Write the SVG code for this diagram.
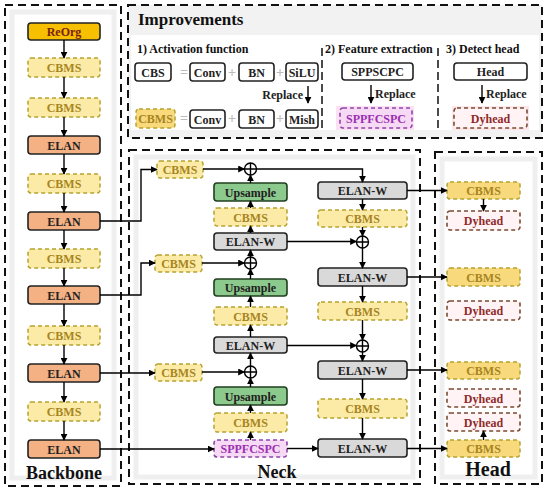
<svg xmlns="http://www.w3.org/2000/svg" width="550" height="492" viewBox="0 0 550 492">
<defs>
<marker id="ah" viewBox="0 0 10 10" refX="9" refY="5" markerWidth="5" markerHeight="5" orient="auto"><path d="M0,0 L10,5 L0,10 z" fill="#000"/></marker>
<style>
text{font-family:"Liberation Serif","Times New Roman",serif;font-weight:bold;}
.panel{fill:#fff;stroke:#111;stroke-width:2;stroke-dasharray:8,5;}
.inner{fill:#fff;stroke:#EFEFEF;stroke-width:5;}
.cbms{fill:#FCEBA6;stroke:#B5A230;stroke-width:1.5;stroke-dasharray:4,3;}
.cbmsh{fill:#F8D97C;stroke:#B5A230;stroke-width:1.5;stroke-dasharray:4,3;}
.tc{fill:#A7851F;font-size:12px;text-anchor:middle;}
.elan{fill:#F4B183;stroke:#222;stroke-width:1.6;}
.reorg{fill:#F6C000;stroke:#222;stroke-width:1.6;}
.elanw{fill:#D9D9D9;stroke:#222;stroke-width:1.6;}
.up{fill:#8CC98C;stroke:#1F3F1F;stroke-width:1.6;}
.spp{fill:#F6D9F5;stroke:#8E44A8;stroke-width:1.6;stroke-dasharray:4,3;}
.tspp{fill:#9B2FB0;font-size:12px;text-anchor:middle;}
.dy{fill:#FFF3F6;stroke:#7A4A30;stroke-width:1.6;stroke-dasharray:4,3;}
.tdy{fill:#8E2A2A;font-size:12px;text-anchor:middle;}
.box{fill:#fff;stroke:#222;stroke-width:1.6;}
.tk{fill:#222;font-size:12px;text-anchor:middle;}
.a{fill:none;stroke:#000;stroke-width:1.4;marker-end:url(#ah);}
.plus circle{fill:#fff;stroke:#000;stroke-width:1.4;}
.plus path{stroke:#000;stroke-width:1.4;}
.sep{stroke:#111;stroke-width:1.5;stroke-dasharray:8,4;}
.op{fill:#BBBBBB;font-size:14px;text-anchor:middle;}
</style>
</defs>

<!-- panels -->
<g id="panel-backbone">
<rect class="panel" x="5" y="5" width="116" height="481"/>
<rect class="inner" x="12" y="12" width="102" height="466"/>
<text x="64" y="479" font-size="18" text-anchor="middle" fill="#111">Backbone</text>
</g>
<g id="panel-improvements">
<rect class="panel" x="128" y="5" width="414" height="133" style="fill:#F2F2F2"/>
<rect x="131" y="35" width="408" height="95" fill="#fff"/>
<text x="138" y="25" font-size="17" fill="#111">Improvements</text>
<text x="137" y="53" font-size="12" fill="#111">1) Activation function</text>
<text x="325" y="53" font-size="12" fill="#111">2)  Feature extraction</text>
<text x="446" y="53" font-size="12" fill="#111">3) Detect head</text>
<line class="sep" x1="322" y1="48" x2="322" y2="129"/>
<line class="sep" x1="438" y1="48" x2="438" y2="129"/>
</g>
<g id="panel-neck">
<rect class="panel" x="129" y="150" width="291" height="334"/>
<rect class="inner" x="136" y="157" width="277" height="320"/>
<text x="277" y="478" font-size="18" text-anchor="middle" fill="#111">Neck</text>
</g>
<g id="panel-head">
<rect class="panel" x="435" y="152" width="107" height="332"/>
<rect class="inner" x="442" y="159" width="93" height="318"/>
<text x="488" y="476" font-size="20" text-anchor="middle" fill="#111">Head</text>
</g>

<!-- improvements content -->
<g id="imp-cbs"><rect class="box" x="135" y="63" width="36" height="18" rx="3"/><text class="tk" x="153" y="76.5">CBS</text></g>
<text class="op" x="184" y="77">=</text>
<g id="imp-conv1"><rect class="box" x="190" y="63" width="35" height="18" rx="3"/><text class="tk" x="207.5" y="76.5">Conv</text></g>
<text class="op" x="232" y="77">+</text>
<g id="imp-bn1"><rect class="box" x="239" y="63" width="35" height="18" rx="3"/><text class="tk" x="256.5" y="76.5">BN</text></g>
<text class="op" x="280" y="77">+</text>
<g id="imp-silu"><rect class="box" x="286" y="63" width="32" height="18" rx="3"/><text class="tk" x="302" y="76.5">SiLU</text></g>
<text x="303" y="99" font-size="12" fill="#222" text-anchor="end">Replace</text>
<g id="imp-cbms"><rect class="cbmsh" x="136" y="109" width="39" height="19" rx="3"/><text class="tc" x="155.5" y="123">CBMS</text></g>
<text class="op" x="184" y="123">=</text>
<g id="imp-conv2"><rect class="box" x="190" y="110" width="35" height="18" rx="3"/><text class="tk" x="207.5" y="123.5">Conv</text></g>
<text class="op" x="232" y="123">+</text>
<g id="imp-bn2"><rect class="box" x="239" y="110" width="35" height="18" rx="3"/><text class="tk" x="256.5" y="123.5">BN</text></g>
<text class="op" x="280" y="123">+</text>
<g id="imp-mish"><rect class="box" x="286" y="110" width="32" height="18" rx="3"/><text class="tk" x="302" y="123.5">Mish</text></g>

<g id="imp-sppscpc"><rect class="box" x="342" y="63" width="71" height="17" rx="3"/><text class="tk" x="377.5" y="76">SPPSCPC</text></g>
<text x="375" y="98" font-size="12" fill="#222">Replace</text>
<g id="imp-sppfcspc"><rect x="336" y="106" width="78" height="24" fill="#FBE1F3"/><rect class="spp" x="340" y="108" width="72" height="20" rx="3"/><text class="tspp" x="376" y="122.5">SPPFCSPC</text></g>

<g id="imp-head"><rect class="box" x="454" y="63" width="73" height="17" rx="3"/><text class="tk" x="490.5" y="76">Head</text></g>
<text x="486" y="98" font-size="12" fill="#222">Replace</text>
<g id="imp-dyhead"><rect x="452" y="106" width="77" height="24" fill="#FCE6EA"/><rect class="dy" x="454" y="108" width="73" height="20" rx="3"/><text class="tdy" x="490.5" y="122.5">Dyhead</text></g>

<!-- backbone nodes -->
<g id="bb-reorg"><rect class="reorg" x="28" y="23" width="72" height="17" rx="3"/><text x="64" y="36" font-size="12" text-anchor="middle" fill="#7A1E10">ReOrg</text></g>
<g id="bb-cbms1"><rect class="cbms" x="28" y="58" width="72" height="19" rx="3"/><text class="tc" x="64" y="72">CBMS</text></g>
<g id="bb-cbms2"><rect class="cbms" x="28" y="98" width="72" height="19" rx="3"/><text class="tc" x="64" y="112">CBMS</text></g>
<g id="bb-elan1"><rect class="elan" x="28" y="136" width="72" height="18" rx="3"/><text class="tk" x="64" y="149.5">ELAN</text></g>
<g id="bb-cbms3"><rect class="cbms" x="28" y="174" width="72" height="19" rx="3"/><text class="tc" x="64" y="188">CBMS</text></g>
<g id="bb-elan2"><rect class="elan" x="28" y="212" width="72" height="18" rx="3"/><text class="tk" x="64" y="225.5">ELAN</text></g>
<g id="bb-cbms4"><rect class="cbms" x="28" y="249" width="72" height="19" rx="3"/><text class="tc" x="64" y="263">CBMS</text></g>
<g id="bb-elan3"><rect class="elan" x="28" y="286" width="72" height="18" rx="3"/><text class="tk" x="64" y="299.5">ELAN</text></g>
<g id="bb-cbms5"><rect class="cbms" x="28" y="326" width="72" height="19" rx="3"/><text class="tc" x="64" y="340">CBMS</text></g>
<g id="bb-elan4"><rect class="elan" x="28" y="364" width="72" height="18" rx="3"/><text class="tk" x="64" y="377.5">ELAN</text></g>
<g id="bb-cbms6"><rect class="cbms" x="28" y="402" width="72" height="19" rx="3"/><text class="tc" x="64" y="416">CBMS</text></g>
<g id="bb-elan5"><rect class="elan" x="28" y="440" width="72" height="18" rx="3"/><text class="tk" x="64" y="453.5">ELAN</text></g>

<!-- neck side CBMS -->
<g id="nk-side1"><rect class="cbms" x="157" y="161" width="46" height="17" rx="3"/><text class="tc" x="180" y="174">CBMS</text></g>
<g id="nk-side2"><rect class="cbms" x="155" y="255" width="47" height="17" rx="3"/><text class="tc" x="178.5" y="268">CBMS</text></g>
<g id="nk-side3"><rect class="cbms" x="155" y="364" width="47" height="17" rx="3"/><text class="tc" x="178.5" y="377">CBMS</text></g>

<!-- neck middle column -->
<g id="nk-plus1" class="plus"><circle cx="250.5" cy="169" r="6"/><path d="M244.5,169 H256.5 M250.5,163 V175"/></g>
<g id="nk-up1"><rect class="up" x="214" y="183" width="73" height="18" rx="3"/><text class="tk" x="250.5" y="196.5">Upsample</text></g>
<g id="nk-cbms1"><rect class="cbms" x="214" y="208" width="73" height="18" rx="3"/><text class="tc" x="250.5" y="221.5">CBMS</text></g>
<g id="nk-elanw1"><rect class="elanw" x="214" y="233" width="73" height="17" rx="3"/><text class="tk" x="250.5" y="246">ELAN-W</text></g>
<g id="nk-plus2" class="plus"><circle cx="250.5" cy="263" r="6"/><path d="M244.5,263 H256.5 M250.5,257 V269"/></g>
<g id="nk-up2"><rect class="up" x="214" y="279" width="73" height="17" rx="3"/><text class="tk" x="250.5" y="292">Upsample</text></g>
<g id="nk-cbms2"><rect class="cbms" x="214" y="307" width="73" height="18" rx="3"/><text class="tc" x="250.5" y="320.5">CBMS</text></g>
<g id="nk-elanw2"><rect class="elanw" x="214" y="337" width="73" height="16" rx="3"/><text class="tk" x="250.5" y="349.5">ELAN-W</text></g>
<g id="nk-plus3" class="plus"><circle cx="250.5" cy="372" r="6"/><path d="M244.5,372 H256.5 M250.5,366 V378"/></g>
<g id="nk-up3"><rect class="up" x="214" y="387" width="73" height="18" rx="3"/><text class="tk" x="250.5" y="400.5">Upsample</text></g>
<g id="nk-cbms3"><rect class="cbms" x="214" y="413" width="73" height="19" rx="3"/><text class="tc" x="250.5" y="427">CBMS</text></g>
<g id="nk-spp"><rect class="spp" x="214" y="440" width="73" height="17" rx="3"/><text class="tspp" x="250.5" y="453">SPPFCSPC</text></g>

<!-- neck right column -->
<g id="nk-r-elanw1"><rect class="elanw" x="318" y="182" width="89" height="17" rx="3"/><text class="tk" x="362.5" y="195">ELAN-W</text></g>
<g id="nk-r-cbms1"><rect class="cbms" x="318" y="210" width="89" height="17" rx="3"/><text class="tc" x="362.5" y="223">CBMS</text></g>
<g id="nk-r-plus1" class="plus"><circle cx="362.5" cy="242" r="6"/><path d="M356.5,242 H368.5 M362.5,236 V248"/></g>
<g id="nk-r-elanw2"><rect class="elanw" x="318" y="268" width="89" height="18" rx="3"/><text class="tk" x="362.5" y="281.5">ELAN-W</text></g>
<g id="nk-r-cbms2"><rect class="cbms" x="318" y="302" width="89" height="18" rx="3"/><text class="tc" x="362.5" y="315.5">CBMS</text></g>
<g id="nk-r-plus2" class="plus"><circle cx="362.5" cy="346" r="6"/><path d="M356.5,346 H368.5 M362.5,340 V352"/></g>
<g id="nk-r-elanw3"><rect class="elanw" x="318" y="361" width="89" height="18" rx="3"/><text class="tk" x="362.5" y="374.5">ELAN-W</text></g>
<g id="nk-r-cbms3"><rect class="cbms" x="318" y="399" width="89" height="19" rx="3"/><text class="tc" x="362.5" y="413">CBMS</text></g>
<g id="nk-r-elanw4"><rect class="elanw" x="318" y="439" width="89" height="18" rx="3"/><text class="tk" x="362.5" y="452.5">ELAN-W</text></g>

<!-- head -->
<g id="hd-cbms1"><rect class="cbmsh" x="447" y="182" width="73" height="17" rx="3"/><text class="tc" x="483.5" y="195">CBMS</text></g>
<g id="hd-dy1"><rect class="dy" x="447" y="211" width="73" height="19" rx="3"/><text class="tdy" x="483.5" y="225">Dyhead</text></g>
<g id="hd-cbms2"><rect class="cbmsh" x="447" y="268" width="73" height="18" rx="3"/><text class="tc" x="483.5" y="281.5">CBMS</text></g>
<g id="hd-dy2"><rect class="dy" x="447" y="301" width="73" height="19" rx="3"/><text class="tdy" x="483.5" y="315">Dyhead</text></g>
<g id="hd-cbms3"><rect class="cbmsh" x="447" y="362" width="73" height="17" rx="3"/><text class="tc" x="483.5" y="375">CBMS</text></g>
<g id="hd-dy3"><rect class="dy" x="447" y="389" width="73" height="18" rx="3"/><text class="tdy" x="483.5" y="402.5">Dyhead</text></g>
<g id="hd-dy4"><rect class="dy" x="447" y="413" width="73" height="18" rx="3"/><text class="tdy" x="483.5" y="426.5">Dyhead</text></g>
<g id="hd-cbms4"><rect class="cbmsh" x="447" y="440" width="73" height="17" rx="3"/><text class="tc" x="483.5" y="453">CBMS</text></g>

<!-- connectors -->
<g id="connectors">
<path class="a" d="M308,86 V103"/>
<path class="a" d="M371,85 V103"/>
<path class="a" d="M482,85 V103"/>

<path class="a" d="M64,40 V58"/>
<path class="a" d="M64,77 V98"/>
<path class="a" d="M64,117 V136"/>
<path class="a" d="M64,154 V174"/>
<path class="a" d="M64,193 V212"/>
<path class="a" d="M64,230 V249"/>
<path class="a" d="M64,268 V286"/>
<path class="a" d="M64,304 V326"/>
<path class="a" d="M64,345 V364"/>
<path class="a" d="M64,382 V402"/>
<path class="a" d="M64,421 V440"/>

<path class="a" d="M100,221 H141 V169.5 H157"/>
<path class="a" d="M100,295 H141 V263 H155"/>
<path class="a" d="M100,373 H155"/>
<path class="a" d="M100,449 H214"/>

<path class="a" d="M203,169 H244.5"/>
<path class="a" d="M202,263 H244.5"/>
<path class="a" d="M202,372 H244.5"/>

<path class="a" d="M250.5,440 V432"/>
<path class="a" d="M250.5,413 V405"/>
<path class="a" d="M250.5,387 V378"/>
<path class="a" d="M250.5,366 V353"/>
<path class="a" d="M250.5,337 V325"/>
<path class="a" d="M250.5,307 V296"/>
<path class="a" d="M250.5,279 V269"/>
<path class="a" d="M250.5,257 V250"/>
<path class="a" d="M250.5,233 V226"/>
<path class="a" d="M250.5,208 V201"/>
<path class="a" d="M250.5,183 V175"/>

<path class="a" d="M256.5,169 H362.5 V182"/>
<path class="a" d="M287,241.5 H356.5"/>
<path class="a" d="M287,345.5 H356.5"/>
<path class="a" d="M287,448.5 H318"/>

<path class="a" d="M362.5,199 V210"/>
<path class="a" d="M362.5,227 V236"/>
<path class="a" d="M362.5,248 V268"/>
<path class="a" d="M362.5,286 V302"/>
<path class="a" d="M362.5,320 V340"/>
<path class="a" d="M362.5,352 V361"/>
<path class="a" d="M362.5,379 V399"/>
<path class="a" d="M362.5,418 V439"/>

<path class="a" d="M407,190.5 H447"/>
<path class="a" d="M407,277 H447"/>
<path class="a" d="M407,370 H447"/>
<path class="a" d="M407,448.5 H447"/>

<path class="a" d="M483.5,199 V211"/>
<path class="a" d="M483.5,440 V431"/>
</g>
</svg>
